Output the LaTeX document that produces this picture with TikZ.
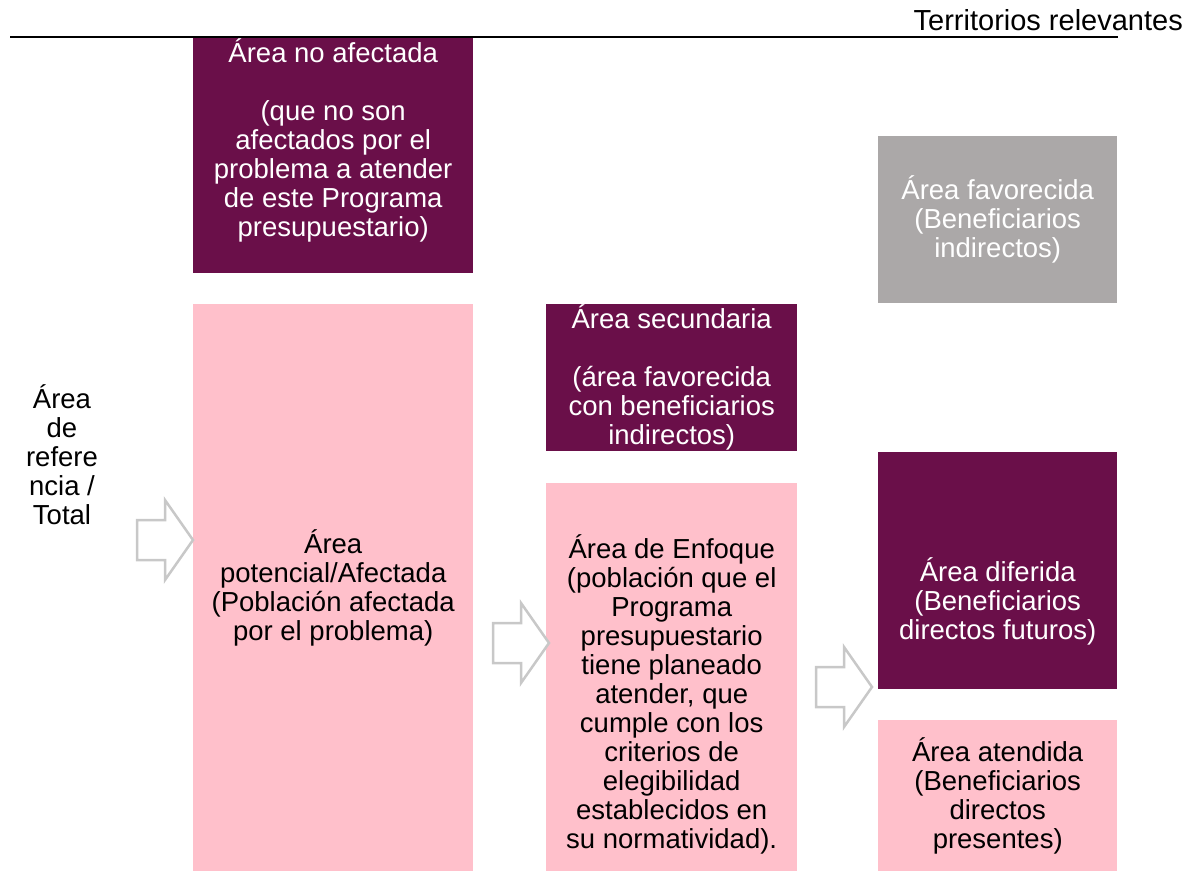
\documentclass[tikz,border=0pt]{standalone}
\usepackage{fontspec}
\setmainfont{Liberation Sans}
\usepackage{tikz}
\usetikzlibrary{positioning}
\definecolor{vino}{HTML}{6A0F49}
\definecolor{rosa}{HTML}{FFC0CB}
\definecolor{gris}{HTML}{ABA8A8}
\definecolor{flecha}{HTML}{C8C8C8}
\tikzset{
  caja/.style = {rectangle, inner sep = 0pt, anchor = north west},
  texto/.style = {align = center, font = \fontsize{27.5}{29}\selectfont, inner sep = 0pt},
  hueca/.style = {draw = flecha, line width = 2.5pt, line join = miter, fill = white},
}
\newcommand{\flechahueca}[1]{%
  \draw [hueca, shift = {(#1)}] (0,0) -- (-28,-40) -- (-28,-20) -- (-56,-20)
    -- (-56,20) -- (-28,20) -- (-28,40) -- cycle;}

\begin{document}
\begin{tikzpicture}[x = 1pt, y = -1pt]
      \useasboundingbox (0,0) rectangle (1190,872);
      \coordinate (lineaIzq) at (10,37);
      \coordinate (lineaDer) at (1118,37);
      \draw [line width = 2.5pt] (lineaIzq) -- (lineaDer);
      \node [texto, font = \fontsize{29}{31}\selectfont, anchor = base east] (titulo) at (1183,31) {Territorios relevantes};

      \node [caja, fill = vino, minimum width = 280pt, minimum height = 235pt] (noafect) at (193,38) {};
      \node [caja, fill = rosa, minimum width = 280pt, minimum height = 567pt] (potencial) at (193,304) {};
      \node [caja, fill = vino, minimum width = 251pt, minimum height = 147pt] (secundaria) at (546,304) {};
      \node [caja, fill = rosa, minimum width = 251pt, minimum height = 388pt] (enfoque) at (546,483) {};
      \node [caja, fill = gris, minimum width = 239pt, minimum height = 167pt] (favorecida) at (878,136) {};
      \node [caja, fill = vino, minimum width = 239pt, minimum height = 237pt] (diferida) at (878,452) {};
      \node [caja, fill = rosa, minimum width = 239pt, minimum height = 151pt] (atendida) at (878,720) {};

      \node [texto, text = white] (tNoafect) at ([yshift = 15pt]noafect.center)
        {Área no afectada\\[29pt](que no son\\afectados por el\\problema a atender\\de este Programa\\presupuestario)};
      \node [texto] (tPotencial) at (potencial.center)
        {Área\\potencial/Afectada\\(Población afectada\\por el problema)};
      \node [texto, text = white] (tSecundaria) at (secundaria.center)
        {Área secundaria\\[29pt](área favorecida\\con beneficiarios\\indirectos)};
      \node [texto] (tEnfoque) at ([yshift = -17pt]enfoque.center)
        {Área de Enfoque\\(población que el\\Programa\\presupuestario\\tiene planeado\\atender, que\\cumple con los\\criterios de\\elegibilidad\\establecidos en\\su normatividad).};
      \node [texto, text = white] (tFavorecida) at (favorecida.center)
        {Área favorecida\\(Beneficiarios\\indirectos)};
      \node [texto, text = white] (tDiferida) at ([yshift = -31pt]diferida.center)
        {Área diferida\\(Beneficiarios\\directos futuros)};
      \node [texto] (tAtendida) at (atendida.center)
        {Área atendida\\(Beneficiarios\\directos\\presentes)};
      \node [texto] (referencia) at (62,455)
        {Área\\de\\refere\\ncia /\\Total};

      \coordinate (punta1) at (193,540);
      \coordinate (punta2) at (549,643);
      \coordinate (punta3) at (872,687);
      \foreach \p in {punta1, punta2, punta3}{
        \flechahueca{\p}
      }
    \end{tikzpicture}
\end{document}
